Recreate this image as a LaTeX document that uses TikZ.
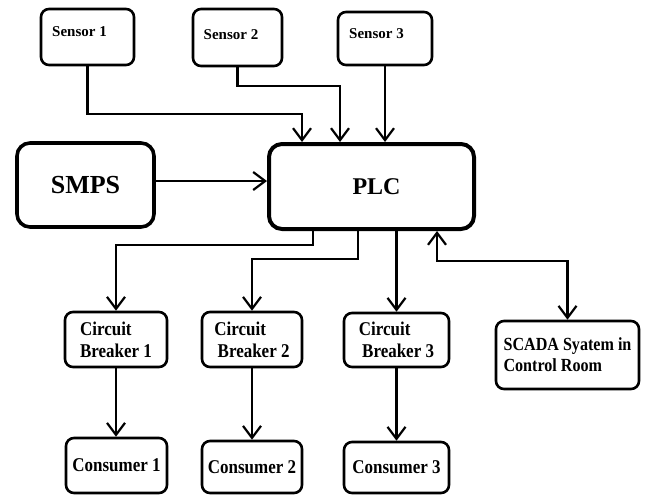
\documentclass[tikz,border=0pt]{standalone}
\usepackage{fontspec}
\setmainfont{Liberation Serif}
\newfontfamily\narrowserif{Liberation Serif}[FakeStretch=0.87]
\usetikzlibrary{arrows.meta,calc}

\begin{document}
\begin{tikzpicture}[x=1pt,y=-1pt,
    box/.style={draw, line width=2.6pt, rounded corners=8pt, inner sep=0pt, align=left},
    bigbox/.style={draw, line width=4pt, rounded corners=13pt, inner sep=0pt},
    lbl/.style={inner sep=0pt, font=\fontsize{15}{17}\selectfont\bfseries},
    cbfont/.style={font=\narrowserif\fontsize{19.5}{22}\selectfont\bfseries},
    wire/.style={line width=2.2pt, -{Straight Barb[length=12pt,width=18pt,line width=2.2pt]}},
    wireboth/.style={line width=2.2pt, {Straight Barb[length=12pt,width=18pt,line width=2.2pt]}-{Straight Barb[length=12pt,width=18pt,line width=2.2pt]}}]
    \useasboundingbox[fill=white] (0,0) rectangle (645,496);

    % sensors
    \node at (87.5,37) (s1) [box, minimum width=93pt, minimum height=56pt] {};
    \node at (237.5,37.5) (s2) [box, minimum width=89pt, minimum height=57pt] {};
    \node at (385,38.5) (s3) [box, minimum width=94pt, minimum height=53pt] {};
    \node at ([shift={(-8,-5)}]s1.center) (s1txt) [lbl] {Sensor 1};
    \node at ([shift={(-6.5,-2.5)}]s2.center) (s2txt) [lbl] {Sensor 2};
    \node at ([shift={(-8.5,-4.5)}]s3.center) (s3txt) [lbl] {Sensor 3};

    % power supply and controller
    \node at (85.5,185) (smps) [bigbox, line width=3.6pt, minimum width=137pt, minimum height=84pt,
        font=\fontsize{26}{28}\selectfont\bfseries] {SMPS};
    \node at (371.5,186.5) (plc) [bigbox, minimum width=205pt, minimum height=85pt,
        font=\fontsize{24}{26}\selectfont\bfseries] {\hspace{10pt}PLC};

    % breakers
    \node at (116,339.5) (cb1) [box, cbfont, minimum width=102pt, minimum height=55pt] {Circuit\\Breaker 1};
    \node at (252,339.5) (cb2) [box, cbfont, minimum width=100pt, minimum height=55pt] {Circuit\\\,Breaker 2};
    \node at (396.5,340) (cb3) [box, cbfont, minimum width=105pt, minimum height=54pt] {Circuit\\\,Breaker 3};
    \node at (567.5,355) (scada) [box, font=\narrowserif\fontsize{18.5}{21}\selectfont\bfseries,
        minimum width=143pt, minimum height=68pt] {SCADA Syatem in\\Control Room};

    % consumers
    \node at (116.5,465.5) (c1) [box, cbfont, minimum width=101pt, minimum height=55pt] {Consumer 1};
    \node at (252,467) (c2) [box, cbfont, minimum width=100pt, minimum height=52pt] {Consumer 2};
    \node at (396.5,467.5) (c3) [box, cbfont, minimum width=105pt, minimum height=51pt] {Consumer 3};

    % sensor inputs
    \draw[wire] (s1.south) -- ++(0,48) -| ([xshift=-69.5pt]plc.north);
    \draw[wire] (s2.south) -- ++(0,19) -| ([xshift=-31.5pt]plc.north);
    \draw[wire] (s3.south) -- (s3.south |- plc.north);
    \draw[wire] ([yshift=4pt]smps.east) -- ([yshift=4pt]smps.east -| plc.west);

    % outputs
    \draw[wire] ([xshift=-58.5pt]plc.south) -- ++(0,14) -| (cb1.north);
    \draw[wire] ([xshift=-13.5pt]plc.south) -- ++(0,28) -| (cb2.north);
    \draw[wire] (cb3.north |- plc.south) -- (cb3.north);
    \draw[wireboth] ([xshift=65.5pt]plc.south) -- ++(0,30) -| (scada.north);

    \draw[wire] (cb1.south) -- (cb1.south |- c1.north);
    \draw[wire] (cb2.south) -- (cb2.south |- c2.north);
    \draw[wire] (cb3.south) -- (cb3.south |- c3.north);
\end{tikzpicture}
\end{document}
